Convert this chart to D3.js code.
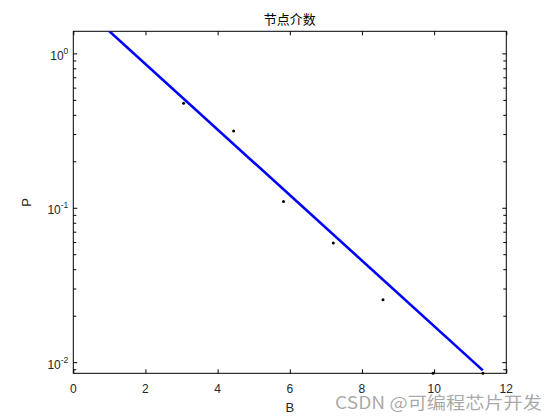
<!DOCTYPE html>
<html>
<head>
<meta charset="utf-8">
<script src="https://cdn.jsdelivr.net/npm/d3@7"></script>
<style>
  html, body { margin: 0; padding: 0; background: #fff; }
  svg { display: block; }
</style>
</head>
<body>
<svg id="chart" width="560" height="420"></svg>
<script>
// ---- data ----
const pointsB = [3.056, 4.444, 5.825, 7.206, 8.583, 9.972, 11.353];
const pointsP = [0.4746, 0.314, 0.110, 0.0592, 0.0254, 0.00847, 0.00847];
const fitB = [1.0, 11.35];
const fitP = [1.39, 0.00885];
const xTicks = [0, 2, 4, 6, 8, 10, 12];
const yTickExps = [0, -1, -2];
const xDomain = [0, 12];
const yDomain = [0.00847, 1.39];
const titleText = "节点介数";
const xLabelText = "B";
const yLabelText = "P";
const watermarkText = "CSDN @可编程芯片开发";

// ---- layout ----
const L = 73.3, R = 506.3, T = 31.3, B = 373.3;
const svg = d3.select("#chart");
const x = d3.scaleLinear().domain(xDomain).range([L, R]);
const y = d3.scaleLog().domain(yDomain).range([B, T]);

const font = "'Liberation Sans', Arial, Helvetica, sans-serif";

svg.append("defs").append("clipPath").attr("id", "clip")
  .append("rect").attr("x", L).attr("y", T).attr("width", R - L).attr("height", B - T);

// minor/major y ticks
const yMinor = [];
for (let e = -3; e <= 0; e++) {
  for (let m = 2; m <= 9; m++) {
    const v = m * Math.pow(10, e);
    if (v >= yDomain[0] && v <= yDomain[1]) yMinor.push(v);
  }
}
const yMajor = yTickExps.map(e => Math.pow(10, e));

// axes via d3 axis (inward ticks)
const axisG = svg.append("g").attr("stroke-width", 1);

function styleAxis(g) {
  g.select(".domain").remove();
  g.selectAll("line").attr("stroke", "#000");
  g.selectAll("text").remove();
}
// bottom
axisG.append("g").attr("transform", `translate(0,${B})`)
  .call(d3.axisBottom(x).tickValues(xTicks).tickSizeInner(-4).tickSizeOuter(0)).call(styleAxis);
// top
axisG.append("g").attr("transform", `translate(0,${T})`)
  .call(d3.axisTop(x).tickValues(xTicks).tickSizeInner(-4).tickSizeOuter(0)).call(styleAxis);
// left major & minor
axisG.append("g").attr("transform", `translate(${L},0)`)
  .call(d3.axisLeft(y).tickValues(yMajor).tickSizeInner(-4).tickSizeOuter(0)).call(styleAxis);
axisG.append("g").attr("transform", `translate(${L},0)`)
  .call(d3.axisLeft(y).tickValues(yMinor).tickSizeInner(-3).tickSizeOuter(0)).call(styleAxis);
// right
axisG.append("g").attr("transform", `translate(${R},0)`)
  .call(d3.axisRight(y).tickValues(yMajor).tickSizeInner(-4).tickSizeOuter(0)).call(styleAxis);
axisG.append("g").attr("transform", `translate(${R},0)`)
  .call(d3.axisRight(y).tickValues(yMinor).tickSizeInner(-3).tickSizeOuter(0)).call(styleAxis);

// frame
svg.append("rect").attr("x", L).attr("y", T).attr("width", R - L).attr("height", B - T)
  .attr("fill", "none").attr("stroke", "#000").attr("stroke-width", 1);

// x tick labels
svg.append("g").selectAll("text").data(xTicks).join("text")
  .attr("x", d => x(d)).attr("y", B + 19.2)
  .attr("text-anchor", "middle")
  .attr("font-family", font).attr("font-size", 12).attr("fill", "#262626")
  .text(d => d);

// y tick labels 10^e
const yl = svg.append("g").selectAll("text").data(yTickExps).join("text")
  .attr("x", L - 5).attr("y", d => y(Math.pow(10, d)) + 6.6)
  .attr("text-anchor", "end")
  .attr("font-family", font).attr("font-size", 12).attr("fill", "#262626");
yl.append("tspan").text("10");
yl.append("tspan").attr("font-size", 8.5).attr("dy", -6).text(d => d);

// fit line
svg.append("path")
  .datum(fitB.map((b, i) => [b, fitP[i]]))
  .attr("clip-path", "url(#clip)")
  .attr("fill", "none").attr("stroke", "#0000ff").attr("stroke-width", 2.6)
  .attr("d", d3.line().x(d => x(d[0])).y(d => y(d[1])));

// points
svg.append("g").selectAll("circle").data(pointsB.map((b, i) => [b, pointsP[i]])).join("circle")
  .attr("cx", d => x(d[0])).attr("cy", d => y(d[1])).attr("r", 1.5).attr("fill", "#000");

// title
svg.append("text").attr("x", (L + R) / 2).attr("y", 24)
  .attr("text-anchor", "middle")
  .attr("font-family", "'Noto Sans CJK SC', sans-serif").attr("font-size", 13).attr("fill", "#000")
  .text(titleText);

// axis labels
svg.append("text").attr("x", (L + R) / 2).attr("y", 411.7)
  .attr("text-anchor", "middle")
  .attr("font-family", font).attr("font-size", 13).attr("fill", "#262626")
  .text(xLabelText);
svg.append("text")
  .attr("transform", `translate(31,${(T + B) / 2}) rotate(-90)`)
  .attr("text-anchor", "middle")
  .attr("font-family", font).attr("font-size", 13).attr("fill", "#262626")
  .text(yLabelText);

// watermark
svg.append("text").attr("x", 335).attr("y", 409)
  .attr("font-family", "'Noto Sans CJK SC', 'Liberation Sans', sans-serif")
  .attr("font-size", 17).attr("fill", "#9a9a9a").attr("fill-opacity", 0.85)
  .attr("textLength", 207).attr("lengthAdjust", "spacingAndGlyphs")
  .text(watermarkText);
</script>
</body>
</html>
